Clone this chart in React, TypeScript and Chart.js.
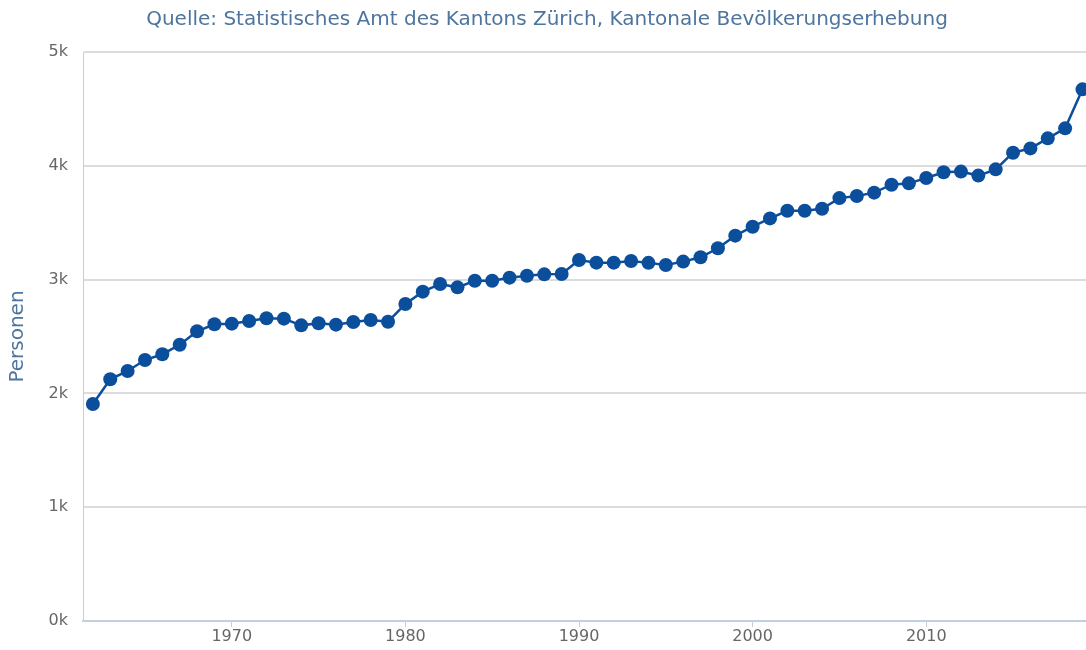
import React, { useEffect, useRef } from "react";
import { Chart, registerables } from "chart.js";

Chart.register(...registerables);

const years: number[] = [
  1962, 1963, 1964, 1965, 1966, 1967, 1968, 1969, 1970, 1971, 1972, 1973,
  1974, 1975, 1976, 1977, 1978, 1979, 1980, 1981, 1982, 1983, 1984, 1985,
  1986, 1987, 1988, 1989, 1990, 1991, 1992, 1993, 1994, 1995, 1996, 1997,
  1998, 1999, 2000, 2001, 2002, 2003, 2004, 2005, 2006, 2007, 2008, 2009,
  2010, 2011, 2012, 2013, 2014, 2015, 2016, 2017, 2018, 2019,
];

const persons: number[] = [
  1907, 2124, 2197, 2293, 2344, 2428, 2546, 2607, 2613, 2636, 2660, 2657,
  2598, 2616, 2604, 2627, 2645, 2630, 2786, 2894, 2961, 2932, 2990, 2990,
  3017, 3034, 3046, 3049, 3172, 3149, 3149, 3163, 3147, 3128, 3158, 3196,
  3275, 3386, 3465, 3538, 3605, 3605, 3623, 3716, 3735, 3764, 3834, 3846,
  3893, 3943, 3949, 3914, 3969, 4115, 4153, 4241, 4329, 4672,
];

const yTicks: number[] = [0, 1000, 2000, 3000, 4000, 5000];
const xTicks: number[] = [1970, 1980, 1990, 2000, 2010];

const titleText = "Quelle: Statistisches Amt des Kantons Zürich, Kantonale Bevölkerungserhebung";
const yAxisTitle = "Personen";

const FONT = "'DejaVu Sans', sans-serif";

export default function App() {
  const ref = useRef<HTMLCanvasElement | null>(null);

  useEffect(() => {
    const canvas = ref.current;
    if (!canvas) return;
    const chart = new Chart(canvas, {
      type: "line",
      data: {
        datasets: [
          {
            data: years.map((y, i) => ({ x: y, y: persons[i] })),
            borderColor: "#0b4f9c",
            backgroundColor: "#0b4f9c",
            borderWidth: 2.5,
            pointRadius: 7,
            pointBorderWidth: 0,
            pointBackgroundColor: "#0b4f9c",
            tension: 0,
            clip: false,
          },
        ],
      },
      options: {
        responsive: false,
        animation: false,
        layout: { padding: { left: 0, right: 0, top: 0, bottom: 0 } },
        plugins: {
          legend: { display: false },
          tooltip: { enabled: false },
          title: {
            display: true,
            text: titleText,
            color: "#4d759e",
            font: { family: FONT, size: 20, weight: "normal" },
            padding: { top: 8, bottom: 20 },
          },
        },
        scales: {
          x: {
            type: "linear",
            min: 1961.43,
            max: 2019.26,
            afterBuildTicks: (scale: any) => {
              scale.ticks = xTicks.map((v) => ({ value: v }));
            },
            afterFit: (scale: any) => {
              scale.height = 29;
            },
            ticks: {
              color: "#666666",
              font: { family: FONT, size: 16 },
              padding: 0,
              maxRotation: 0,
              includeBounds: false,
              callback: (v: any) => String(v),
            },
            grid: {
              drawOnChartArea: false,
              drawTicks: true,
              tickLength: 6,
              tickColor: "#c0d0e0",
              tickWidth: 1,
            },
            border: { display: true, color: "#c0d0e0", width: 2 },
          },
          y: {
            min: 0,
            max: 5000,
            afterBuildTicks: (scale: any) => {
              scale.ticks = yTicks.map((v) => ({ value: v }));
            },
            afterFit: (scale: any) => {
              scale.width = 83;
            },
            ticks: {
              color: "#666666",
              font: { family: FONT, size: 16 },
              padding: 15,
              callback: (v: any) => `${Number(v) / 1000}k`,
            },
            grid: {
              drawTicks: false,
              color: (ctx: any) => (ctx.tick && ctx.tick.value === 0 ? "rgba(0,0,0,0)" : "#dcdcdc"),
              lineWidth: 2,
            },
            border: { display: true, color: "#c0d0e0", width: 1 },
            title: {
              display: true,
              text: yAxisTitle,
              color: "#4d759e",
              font: { family: FONT, size: 20, weight: "normal" },
              padding: { top: 6, bottom: 0 },
            },
          },
        },
      },
    } as any);
    return () => chart.destroy();
  }, []);

  return (
    <div
      style={{
        position: "fixed",
        left: 0,
        top: 0,
        width: 1086,
        height: 650,
        overflow: "hidden",
        background: "#ffffff",
      }}
    >
      <canvas ref={ref} width={1094} height={650} style={{ width: 1094, height: 650, display: "block" }} />
    </div>
  );
}
